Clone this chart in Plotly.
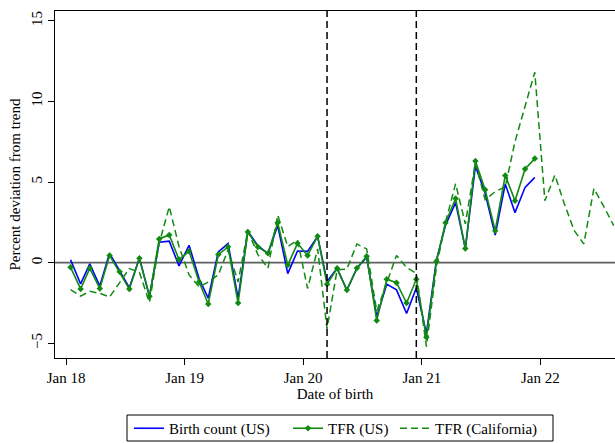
import plotly.graph_objects as go
import pandas as pd

# monthly dates (mid-month), Jan 2018 .. Aug 2022
dates_us = pd.date_range("2018-01-01", periods=48, freq="MS") + pd.Timedelta(days=14)
dates_ca = pd.date_range("2018-01-01", periods=56, freq="MS") + pd.Timedelta(days=14)

birth_count_us = [0.17, -1.32, -0.08, -1.45, 0.58, -0.5, -1.55, 0.29, -2.1, 1.27,
                  1.33, -0.2, 1.08, -1.0, -2.2, 0.67, 1.18, -2.2, 1.95, 1.05,
                  0.56, 2.3, -0.68, 0.72, 0.7, 1.63, -1.16, -0.35, -1.7, -0.35,
                  0.34, -3.35, -1.33, -1.69, -3.15, -1.57, -4.4, 0.17, 2.33, 3.72,
                  0.87, 5.99, 4.3, 1.71, 4.88, 3.1, 4.67, 5.29]

tfr_us = [-0.29, -1.63, -0.35, -1.6, 0.45, -0.57, -1.64, 0.28, -2.08, 1.47,
          1.72, 0.19, 0.7, -1.2, -2.56, 0.5, 0.98, -2.5, 1.9, 0.97,
          0.58, 2.48, -0.15, 1.2, 0.45, 1.63, -1.34, -0.35, -1.7, -0.33,
          0.4, -3.58, -1.03, -1.24, -2.5, -1.03, -4.63, 0.08, 2.48, 3.97,
          0.87, 6.3, 4.52, 1.98, 5.41, 3.84, 5.81, 6.45]

tfr_ca = [-1.67, -2.07, -1.78, -1.9, -2.13, -1.25, -0.37, -0.6, -2.47, 1.2,
          3.47, 1.0, -0.76, -1.5, -1.2, -0.76, 0.8, -1.2, 2.0, 0.5,
          -0.35, 2.95, 1.0, 1.4, -1.6, 0.85, -4.1, -0.45, -0.4, 1.16,
          0.85, -3.0, -1.3, 0.45, -0.3, -0.66, -5.2, -0.25, 2.5, 4.9,
          2.4, 6.2, 3.9, 4.4, 4.7, 7.5, 9.7, 11.8, 3.84, 5.43,
          3.7, 2.0, 1.16, 4.6, 3.5, 2.3]

event_dates = ["2020-03-15", "2020-12-15"]
tick_dates = ["2018-01-01", "2019-01-01", "2020-01-01", "2021-01-01", "2022-01-01"]
tick_labels = ["Jan 18", "Jan 19", "Jan 20", "Jan 21", "Jan 22"]

GREEN = "#118a11"
BLUE = "#0000ff"
FONT = "Liberation Serif"
W, H = 615, 443

fig = go.Figure()
fig.add_trace(go.Scatter(x=dates_us, y=birth_count_us, mode="lines",
                         name="Birth count (US)", legend="legend",
                         line=dict(color=BLUE, width=1.6)))
fig.add_trace(go.Scatter(x=dates_us, y=tfr_us, mode="lines+markers",
                         name="TFR (US)", legend="legend2",
                         line=dict(color=GREEN, width=1.6),
                         marker=dict(symbol="diamond", size=5, color=GREEN)))
fig.add_trace(go.Scatter(x=dates_ca, y=tfr_ca, mode="lines",
                         name="TFR (California)", legend="legend3",
                         line=dict(color=GREEN, width=1.5, dash="7px,4px")))

fig.add_hline(y=0, line=dict(color="#606060", width=1.6), layer="below")
for d in event_dates:
    fig.add_vline(x=d, line=dict(color="black", width=1.5, dash="7px,4px"))

# legend frame (pixels -> paper coordinates)
L, T, PW, PH = 55, 11, 560, 347
def px_x(p):
    return (p - L) / PW
def px_y(p):
    return (T + PH - p) / PH
fig.add_shape(type="rect", xref="paper", yref="paper",
              x0=px_x(127), x1=px_x(553), y0=px_y(441), y1=px_y(415),
              line=dict(color="black", width=1), fillcolor="rgba(0,0,0,0)")

leg_common = dict(orientation="h", xanchor="left", xref="container",
                  yanchor="top", yref="container", y=(H - 412) / H,
                  bgcolor="rgba(0,0,0,0)", borderwidth=0, font=dict(size=15),
                  itemwidth=30)

fig.update_layout(
    width=W, height=H,
    margin=dict(l=L, r=0, t=T, b=H - T - PH, autoexpand=False),
    paper_bgcolor="white", plot_bgcolor="white",
    font=dict(family=FONT, size=15, color="black"),
    showlegend=True,
    legend=dict(x=129 / W, **leg_common),
    legend2=dict(x=288 / W, **leg_common),
    legend3=dict(x=395 / W, **leg_common),
    xaxis=dict(range=["2017-11-28", "2022-08-19"], tickmode="array",
               tickvals=tick_dates, ticktext=tick_labels,
               showgrid=False, zeroline=False, showline=True, linecolor="black",
               linewidth=1.3, mirror=True, ticks="outside", ticklen=6,
               tickcolor="black", tickfont=dict(size=15),
               title=dict(text="Date of birth", standoff=2, font=dict(size=15))),
    yaxis=dict(range=[-5.91, 15.6], tickvals=[-5, 0, 5, 10, 15],
               showgrid=False, zeroline=False, showline=True, linecolor="black",
               linewidth=1.3, ticks="outside", ticklen=6, tickcolor="black",
               tickangle=-90, tickfont=dict(size=15),
               title=dict(text="Percent deviation from trend", standoff=4,
                          font=dict(size=15))),
)

fig.write_html("out.html", config={"displayModeBar": False},
               post_script="document.body.style.margin='0';")
